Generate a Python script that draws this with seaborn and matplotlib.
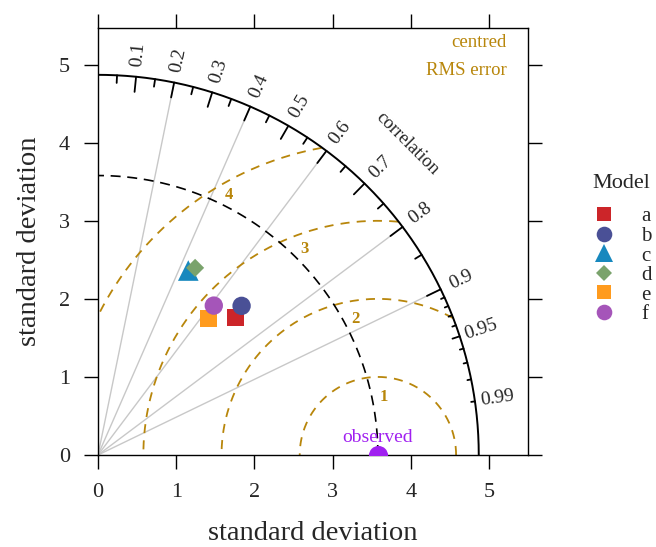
import numpy as np
import pandas as pd
import matplotlib
matplotlib.use("Agg")
import matplotlib.pyplot as plt
import seaborn as sns
from matplotlib.lines import Line2D

# model statistics
models = ['a', 'b', 'c', 'd', 'e', 'f']
sd_model = [2.49, 2.65, 2.63, 2.70, 2.25, 2.42]
cor_model = [0.707, 0.693, 0.439, 0.460, 0.627, 0.612]
sd_obs = 3.58
sd_max = 4.87

rms_levels = [1, 2, 3, 4]
cor_major = [0.1, 0.2, 0.3, 0.4, 0.5, 0.6, 0.7, 0.8, 0.9]
cor_medium = [0.05, 0.15, 0.25, 0.35, 0.45, 0.55, 0.65, 0.75, 0.85, 0.95]
cor_minor = [0.91, 0.92, 0.93, 0.94, 0.96, 0.97, 0.98, 0.99]
cor_labels = ['0.1', '0.2', '0.3', '0.4', '0.5', '0.6', '0.7', '0.8', '0.9', '0.95', '0.99']
cor_lines = [0.2, 0.4, 0.6, 0.8, 0.9]

colors = {'a': '#CC2529', 'b': '#4A5096', 'c': '#1788BE',
          'd': '#7AA36C', 'e': '#FF9B1E', 'f': '#A555B9'}
markers = {'a': 's', 'b': 'o', 'c': '^', 'd': 'D', 'e': 's', 'f': 'o'}
sizes = {'a': 150, 'b': 175, 'c': 220, 'd': 85, 'e': 150, 'f': 175}

gold = '#B8860B'
obs_col = '#A020F0'

sns.set_theme(style='ticks')
plt.rcParams['font.family'] = ['Liberation Serif', 'DejaVu Serif']

fig = plt.figure(figsize=(6.56, 5.47), dpi=100)
ax = fig.add_axes([0.1494, 0.1682, 0.6555, 0.7806])
ax.set_xlim(0, 5.5)
ax.set_ylim(0, 5.47)

# radial grey lines
for c in cor_lines:
    t = np.arccos(c)
    ax.plot([0, sd_max * np.cos(t)], [0, sd_max * np.sin(t)], color='#C8C8C8', lw=1.0, zorder=1)

# centred RMS contours
th = np.linspace(0, np.pi, 600)
for r in rms_levels:
    x = sd_obs + r * np.cos(th)
    y = r * np.sin(th)
    keep = (x >= 0) & (np.hypot(x, y) <= sd_max)
    x = np.where(keep, x, np.nan)
    ax.plot(x, y, color=gold, lw=1.3, ls=(0, (5, 4)), zorder=2)
    # label near the crossing with the observed sd arc
    ang = np.arccos(1 - r ** 2 / (2 * sd_obs ** 2)) - np.radians(4.5)
    rr = sd_obs + 0.15
    ax.text(rr * np.cos(ang), rr * np.sin(ang), str(r), color=gold, fontsize=12,
            fontweight='bold', ha='center', va='center', zorder=3)

# observed sd arc
ta = np.linspace(0, np.pi / 2, 300)
ax.plot(sd_obs * np.cos(ta), sd_obs * np.sin(ta), color='black', lw=1.2, ls=(0, (6, 4)), zorder=2)

# outer correlation arc
ax.plot(sd_max * np.cos(ta), sd_max * np.sin(ta), color='black', lw=1.4, zorder=3)
for vals, frac in [(cor_major, 0.96), (cor_medium, 0.98), (cor_minor, 0.99)]:
    for c in vals:
        t = np.arccos(c)
        ax.plot([frac * sd_max * np.cos(t), sd_max * np.cos(t)],
                [frac * sd_max * np.sin(t), sd_max * np.sin(t)], color='black', lw=1.3, zorder=3)
for lab in cor_labels:
    t = np.arccos(float(lab))
    rr = sd_max + 0.29
    ax.text(rr * np.cos(t), rr * np.sin(t), lab, fontsize=14, rotation=np.degrees(t),
            rotation_mode='anchor', ha='center', va='center')
ax.text(5.62 * np.cos(np.radians(45.2)), 5.62 * np.sin(np.radians(45.2)), 'correlation',
        fontsize=13.5, rotation=-45, rotation_mode='anchor', ha='center', va='center')

ax.text(5.23, 5.29, 'centred', color=gold, fontsize=13.5, ha='right', va='center')
ax.text(5.23, 4.92, 'RMS error', color=gold, fontsize=13.5, ha='right', va='center')

# observed point
ax.scatter([sd_obs], [0], s=190, color=obs_col, linewidths=0, zorder=4, clip_on=True)
ax.text(sd_obs, 0.22, 'observed', color=obs_col, fontsize=14, ha='center', va='center', zorder=5)

# model points
t_mod = np.arccos(np.array(cor_model))
df = pd.DataFrame({'Model': models,
                   'x': np.array(sd_model) * np.cos(t_mod),
                   'y': np.array(sd_model) * np.sin(t_mod)})
sns.scatterplot(data=df, x='x', y='y', hue='Model', style='Model', size='Model',
                palette=colors, markers=markers, sizes=sizes, linewidth=0,
                legend=False, ax=ax, zorder=5)

ax.set_xticks([0, 1, 2, 3, 4, 5])
ax.set_yticks([0, 1, 2, 3, 4, 5])
ax.tick_params(axis='both', which='both', direction='out', length=10, width=1,
               top=True, right=True, labelsize=16, color='black', pad=10)
for s in ax.spines.values():
    s.set_linewidth(1.0)
    s.set_color('black')
ax.set_xlabel('standard deviation', fontsize=20.5, labelpad=14)
ax.set_ylabel('standard deviation', fontsize=20.5, labelpad=12)

# legend (title placed separately to match spacing)
fig.text(621 / 656, 1 - 183 / 547, 'Model', fontsize=16, ha='center', va='center')
handles = [Line2D([], [], ls='none', marker=markers[m], color=colors[m],
                  markersize=np.sqrt(sizes[m]) * 0.85, markeredgewidth=0) for m in models]
leg = ax.legend(handles, models, loc='upper left', bbox_to_anchor=(0.908, 0.622),
                bbox_transform=fig.transFigure, frameon=False, fontsize=15,
                handlelength=0.8, handletextpad=1.4, labelspacing=0.0, borderpad=0,
                borderaxespad=0)

fig.savefig('out.png', dpi=100)
